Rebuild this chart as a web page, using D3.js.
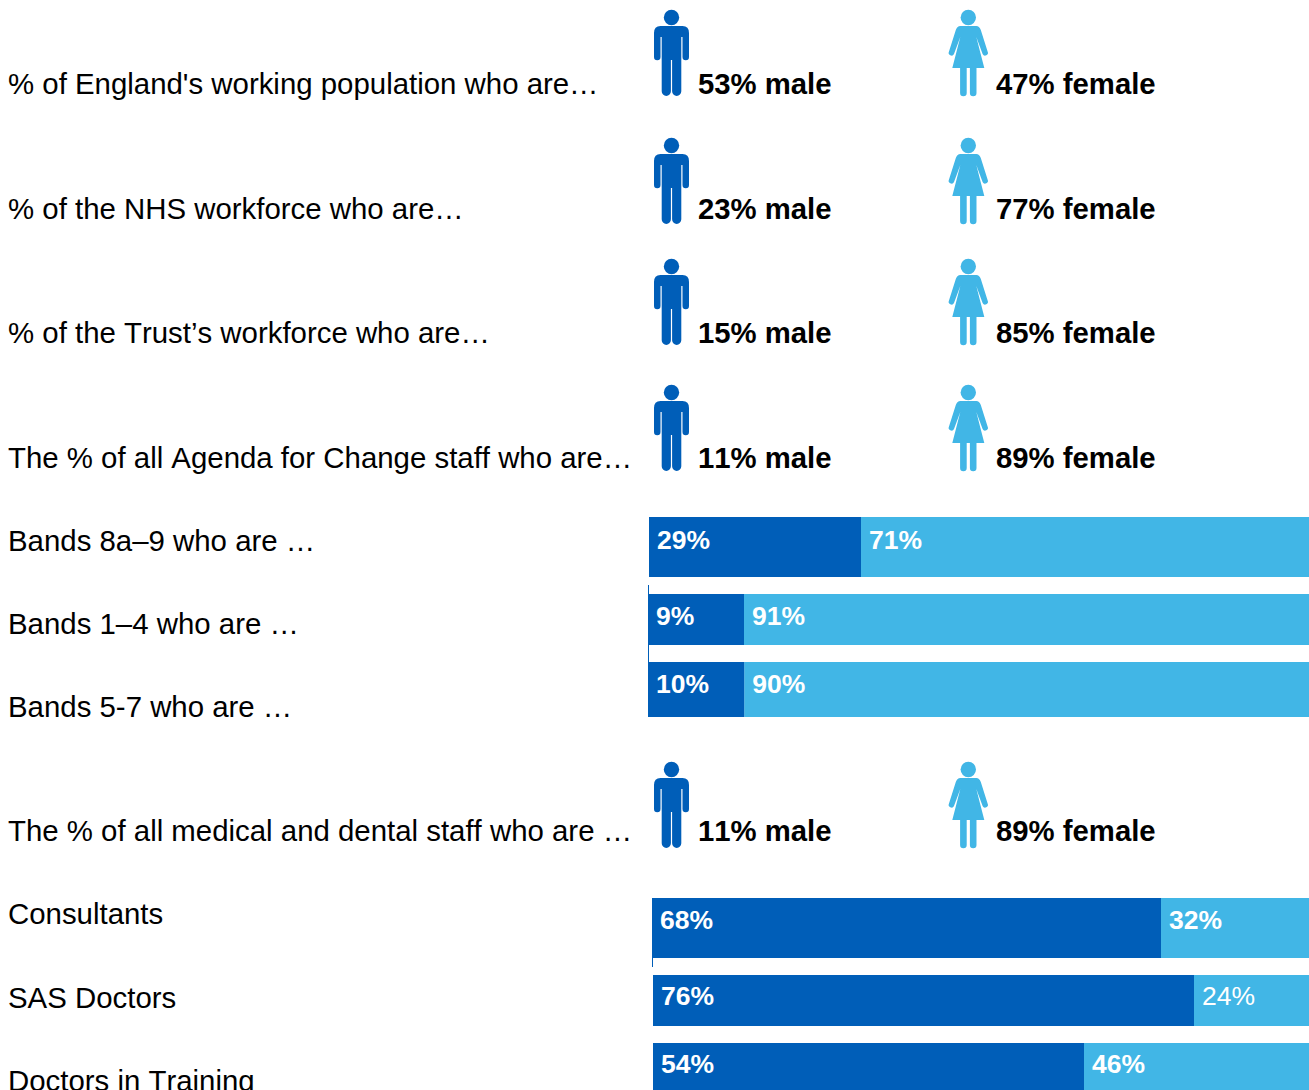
<!DOCTYPE html>
<html lang="en">
<head>
<meta charset="utf-8">
<title>Workforce gender split</title>
<script src="https://cdn.jsdelivr.net/npm/d3@7/dist/d3.min.js"></script>
<style>
  html, body { margin: 0; padding: 0; background: #fff; overflow: hidden; }
  svg { display: block; font-family: "Liberation Sans", Arial, sans-serif; font-kerning: none; }
</style>
</head>
<body>
<script>
// Headline rows: share of each workforce group by gender
const groupLabels = [
  "% of England's working population who are…",
  "% of the NHS workforce who are…",
  "% of the Trust’s workforce who are…",
  "The % of all Agenda for Change staff who are…",
  "The % of all medical and dental staff who are …"
];
const groupMale = [53, 23, 15, 11, 11];
const groupFemale = [47, 77, 85, 89, 89];

// Breakdown rows: staff grade split into male and female shares
const gradeLabels = ["Bands 8a–9 who are …", "Bands 1–4 who are …", "Bands 5-7 who are …",
                     "Consultants", "SAS Doctors", "Doctors in Training"];
const gradeMale = [29, 9, 10, 68, 76, 54];
const gradeFemale = [71, 91, 90, 32, 24, 46];

// Layout
const W = 1309, H = 1090;
const DARK = "#005EB8", LIGHT = "#41B6E6";
const groupHeadTop = d3.scaleOrdinal().domain(groupLabels).range([10, 138, 259, 385, 762]);
const groupTextY = d3.scaleOrdinal().domain(groupLabels).range([94, 219, 343, 468, 841]);
const gradeBar = d3.scaleOrdinal().domain(gradeLabels).range([
  {x: 649, y: 517, h: 60, lx: 8, ly: 551, ty: 549},
  {x: 648, y: 594, h: 51, lx: 8, ly: 634, ty: 625},
  {x: 648, y: 662, h: 55, lx: 8, ly: 717, ty: 693},
  {x: 652, y: 898, h: 60, lx: 8, ly: 924, ty: 929},
  {x: 653, y: 975, h: 51, lx: 8, ly: 1008, ty: 1005},
  {x: 653, y: 1043, h: 55, lx: 8, ly: 1091, ty: 1073}
]);

// The bars use a stretched, non-linear percent axis: low shares are drawn wider than linear
const shareWidth = d3.scaleLinear()
  .domain([0, 9, 10, 29, 54, 68, 76, 100])
  .range([0, 96, 96.2, 212, 431, 509, 541, 660]);

const svg = d3.select("body").append("svg").attr("width", W).attr("height", H);

// Figure outlines, origin at the centre of the top of the head
const malePath = "M-17.5,23Q-17.5,16,-11,16L11,16Q17.5,16,17.5,23L17.5,47A3.25,3.25,0,0,1,11,47L11,27L9.8,27" +
  "L9.8,81.3A4.6,4.6,0,0,1,0.6,81.3L0.6,50L-0.6,50L-0.6,81.3A4.6,4.6,0,0,1,-9.8,81.3" +
  "L-9.8,27L-11,27L-11,47A3.25,3.25,0,0,1,-17.5,47Z";
const femalePath = "M-8,16L8,16Q11,16,12.5,20L19.3,41.5A2.6,2.6,0,0,1,14.3,44L8,27L16,58L8.2,58L8.2,83" +
  "A3.3,3.3,0,0,1,1.6,83L1.6,58L-1.6,58L-1.6,83A3.3,3.3,0,0,1,-8.2,83L-8.2,58L-16,58L-8,27" +
  "L-14.3,44A2.6,2.6,0,0,1,-19.3,41.5L-12.5,20Q-11,16,-8,16Z";

function person(sel, cx, path, colour) {
  const g = sel.append("g")
    .attr("transform", d => `translate(${cx},${groupHeadTop(d.label)})`)
    .attr("fill", colour);
  g.append("circle").attr("cy", 7.5).attr("r", 7.7);
  g.append("path").attr("d", path);
}

const groupRows = svg.selectAll("g.group")
  .data(groupLabels.map((label, i) => ({label, male: groupMale[i], female: groupFemale[i]})))
  .join("g").attr("class", "group");

groupRows.append("text").attr("x", 8).attr("y", d => groupTextY(d.label))
  .attr("font-size", 29.4).attr("fill", "#000").text(d => d.label);
groupRows.call(person, 671.5, malePath, DARK);
groupRows.call(person, 968.3, femalePath, LIGHT);
groupRows.append("text").attr("x", 698).attr("y", d => groupTextY(d.label))
  .attr("font-size", 29.3).attr("font-weight", 700).text(d => `${d.male}% male`);
groupRows.append("text").attr("x", 996).attr("y", d => groupTextY(d.label))
  .attr("font-size", 29.3).attr("font-weight", 700).text(d => `${d.female}% female`);

const gradeRows = svg.selectAll("g.grade")
  .data(gradeLabels.map((label, i) => ({label, male: gradeMale[i], female: gradeFemale[i], pos: gradeBar(label)})))
  .join("g").attr("class", "grade");

gradeRows.append("text").attr("x", d => d.pos.lx).attr("y", d => d.pos.ly)
  .attr("font-size", 29.4).attr("fill", "#000").text(d => d.label);

gradeRows.append("rect").attr("x", d => d.pos.x + shareWidth(d.male)).attr("y", d => d.pos.y)
  .attr("width", d => W - d.pos.x - shareWidth(d.male)).attr("height", d => d.pos.h).attr("fill", LIGHT);
gradeRows.append("rect").attr("x", d => d.pos.x).attr("y", d => d.pos.y)
  .attr("width", d => shareWidth(d.male)).attr("height", d => d.pos.h).attr("fill", DARK);

gradeRows.append("text").attr("x", d => d.pos.x + 8).attr("y", d => d.pos.ty)
  .attr("font-size", 26.5).attr("font-weight", 700).attr("fill", "#fff").text(d => `${d.male}%`);
gradeRows.append("text").attr("x", d => d.pos.x + shareWidth(d.male) + 8).attr("y", d => d.pos.ty)
  .attr("font-size", 26.5).attr("font-weight", d => d.label === "SAS Doctors" ? 400 : 700)
  .attr("fill", "#fff").text(d => `${d.female}%`);

// Hairline rules on the left edge of the bar blocks
const rules = [[648.5, 585, 662], [652.5, 958, 967]];
svg.selectAll("line.rule").data(rules).join("line").attr("class", "rule")
  .attr("x1", d => d[0]).attr("x2", d => d[0]).attr("y1", d => d[1]).attr("y2", d => d[2])
  .attr("stroke", DARK).attr("stroke-width", 1);
</script>
</body>
</html>
